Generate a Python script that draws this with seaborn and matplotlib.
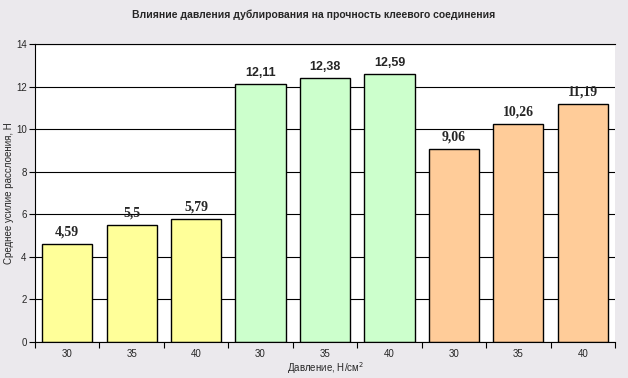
import numpy as np
import pandas as pd
import seaborn as sns
import matplotlib.pyplot as plt

# Data
pressure = ['30', '35', '40', '30', '35', '40', '30', '35', '40']
strength = [4.59, 5.5, 5.79, 12.11, 12.38, 12.59, 9.06, 10.26, 11.19]
value_labels = ['4,59', '5,5', '5,79', '12,11', '12,38', '12,59', '9,06', '10,26', '11,19']
label_fonts = ['Liberation Serif'] * 3 + ['Liberation Sans'] * 3 + ['Liberation Serif'] * 3
bar_colors = ['#FFFF99'] * 3 + ['#CCFFCC'] * 3 + ['#FFCC99'] * 3

df = pd.DataFrame({'pos': [str(i) for i in range(len(strength))], 'strength': strength})

sns.set_style('white')
plt.rcParams['font.family'] = ['Liberation Sans', 'DejaVu Sans']

fig = plt.figure(figsize=(6.28, 3.78), dpi=100, facecolor='#EBE9ED')
ax = fig.add_axes([0.0557, 0.0952, 0.9236, 0.7884])
ax.set_facecolor('white')

sns.barplot(data=df, x='pos', y='strength', hue='pos', palette=bar_colors,
            saturation=1, legend=False, edgecolor='black', linewidth=1,
            width=0.78, ax=ax)

# horizontal grid lines
ax.set_ylim(0, 14)
ax.set_yticks(np.arange(0, 15, 2))
ax.yaxis.grid(True, color='black', linewidth=0.8)
ax.set_axisbelow(True)
ax.set_xlim(-0.5, len(strength) - 0.5)

# tick marks at category boundaries, labels in the middle
ax.set_xticks(np.arange(-0.5, len(strength), 1))
ax.set_xticklabels([])
ax.set_xticks(np.arange(len(strength)), minor=True)
ax.set_xticklabels(pressure, minor=True, fontsize=7)
ax.tick_params(axis='x', which='major', direction='out', length=4, color='black', bottom=True)
ax.tick_params(axis='x', which='minor', length=0, pad=5)
ax.tick_params(axis='y', direction='out', length=4, color='black', left=True, labelsize=7, pad=2)

for side in ['left', 'bottom', 'top']:
    ax.spines[side].set_color('black')
    ax.spines[side].set_linewidth(0.8)
ax.spines['right'].set_visible(False)

# value labels above bars
for i, v in enumerate(strength):
    fs = 9 if label_fonts[i] == 'Liberation Sans' else 10
    ax.text(i, v + 0.25, value_labels[i], ha='center', va='bottom',
            fontsize=fs, fontweight='bold', family=label_fonts[i])

ax.set_xlabel('Давление, Н/см$^2$', fontsize=7, labelpad=1)
ax.set_ylabel('')
fig.text(9 / 628, 0.5 * (0.0952 + 0.8836), 'Среднее усилие расслоения, Н',
         rotation=90, ha='center', va='center', fontsize=7)
fig.suptitle('Влияние давления дублирования на прочность клеевого соединения',
             fontsize=7.5, fontweight='bold', y=0.975)

plt.savefig('out.png', dpi=100, facecolor=fig.get_facecolor())
